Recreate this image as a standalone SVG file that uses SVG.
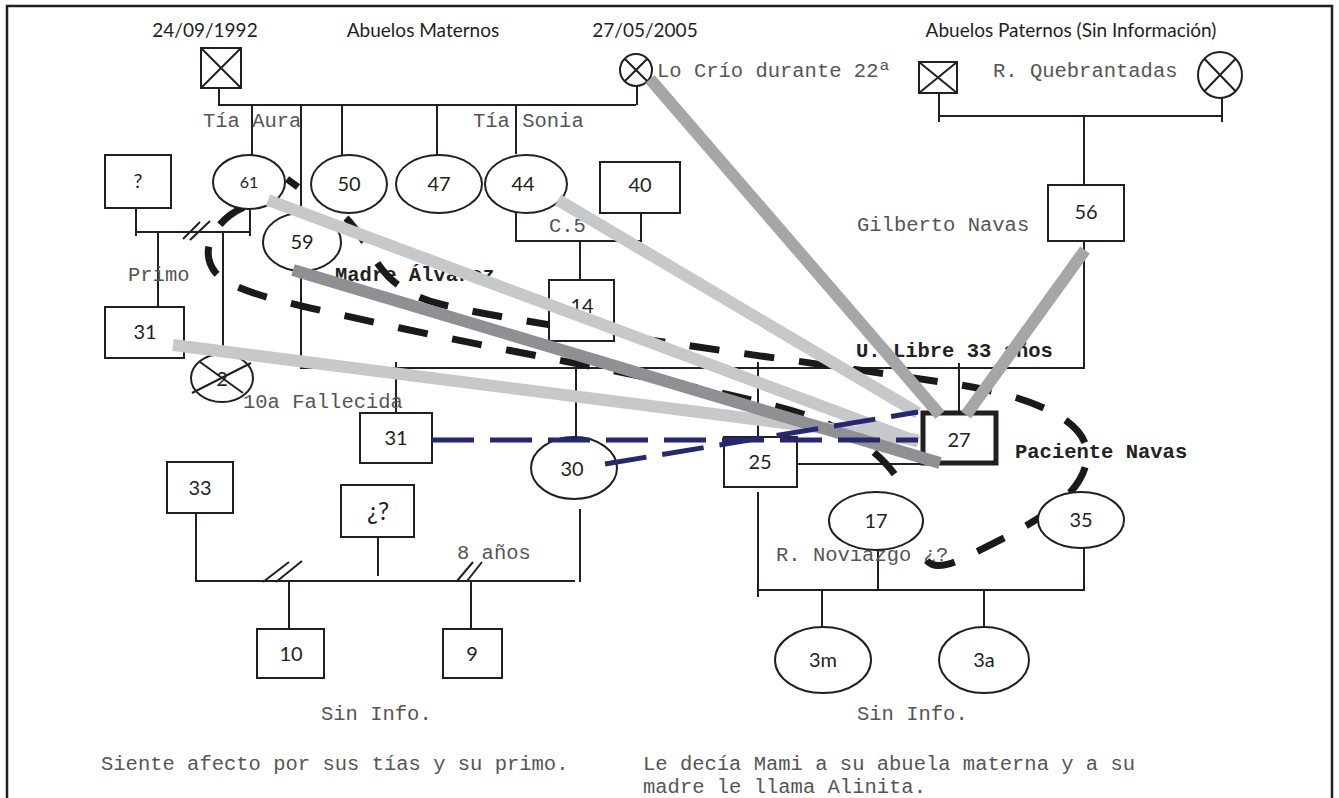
<svg xmlns="http://www.w3.org/2000/svg" width="1339" height="798" viewBox="0 0 1339 798">
  <defs>
    <style>
      .ln{stroke:#231f20;stroke-width:2;fill:none}
      .nd{stroke:#231f20;stroke-width:2;fill:#fff}
      .pt{stroke:#231f20;stroke-width:5;fill:#fff}
      .num{font-family:Lato,"Liberation Sans",sans-serif;font-size:20px;fill:#231f20;text-anchor:middle}
      .hdr{font-family:Lato,"Liberation Sans",sans-serif;font-size:19px;fill:#231f20;text-anchor:middle}
      .mono{font-family:"Liberation Mono","DejaVu Sans Mono",monospace;font-size:20.5px;fill:#555}
      .bold{font-family:"Liberation Mono","DejaVu Sans Mono",monospace;font-size:20.5px;font-weight:bold;fill:#222}
      .emo{stroke:#1a1a1a;stroke-width:7;fill:none;stroke-dasharray:30 25}
      .lg{stroke:#c7c8ca;stroke-width:12;fill:none}
      .mg{stroke:#a5a6a8;stroke-width:12;fill:none}
      .dg{stroke:#8f9093;stroke-width:12;fill:none}
      .bl{stroke:#262673;stroke-width:5;fill:none;stroke-dasharray:42 16}
    </style>
  </defs>
  <rect width="1339" height="798" fill="#fff"/>
  <!-- page frame -->
  <path d="M7 798V6H1332V798" stroke="#231f20" stroke-width="2.5" fill="none"/>

  <!-- kinship lines -->
  <g id="connectors">
    <path class="ln" d="M219 88V105H636M637 86V105"/>
    <path class="ln" d="M252 105V155M301 105V213M342 105V155M437 105V155M516 105V154"/>
    <path class="ln" d="M939 93V122M939 116H1222M1222 97V122M1084 116V185"/>
    <path class="ln" d="M136 208V236M136 232H250M250 210V236M158 232V307M223 232V354"/>
    <path class="ln" d="M301 271V368H1084V241"/>
    <path class="ln" d="M396 362V413M576 368V437M758 362V437M959 363V412"/>
    <path class="ln" d="M516 213V241H641V213M580 241V280"/>
    <path class="ln" d="M797 464H922"/>
    <path class="ln" d="M758 492V597M758 590H1084V548M878 550V590M822 590V627M984 590V627"/>
    <path class="ln" d="M196 513V581H575M580 509V582M378 537V576M289 581V629M471 581V629"/>
    <path class="ln" d="M263 582L289 562M276 582L302 561M457 581L473 562M467 581L482 562"/>
    <path class="ln" d="M183 239L200 222M190 240L210 221"/>
  </g>

  <!-- headings and notes -->
  <g id="labels">
    <text class="hdr" x="205" y="37">24/09/1992</text>
    <text class="hdr" x="423" y="37">Abuelos Maternos</text>
    <text class="hdr" x="645" y="37">27/05/2005</text>
    <text class="hdr" x="1071" y="37">Abuelos Paternos (Sin Información)</text>
    <text class="mono" x="657" y="77">Lo Crío durante 22ª</text>
    <text class="mono" x="993" y="77">R. Quebrantadas</text>
    <text class="mono" x="203" y="127">Tía Aura</text>
    <text class="mono" x="473" y="127">Tía Sonia</text>
    <text class="mono" x="549" y="232">C.5</text>
    <text class="mono" x="857" y="231">Gilberto Navas</text>
    <text class="mono" x="128" y="281">Primo</text>
    <text class="bold" x="335" y="281">Madre Álvarez</text>
    <text class="bold" x="856" y="357">U. Libre 33 años</text>
    <text class="mono" x="243" y="408">10a Fallecida</text>
    <text class="bold" x="1015" y="458">Paciente Navas</text>
    <text class="mono" x="776" y="561">R. Noviazgo ¿?</text>
    <text class="mono" x="457" y="559">8 años</text>
    <text class="mono" x="321" y="720">Sin Info.</text>
    <text class="mono" x="857" y="720">Sin Info.</text>
    <text class="mono" x="101" y="770">Siente afecto por sus tías y su primo.</text>
    <text class="mono" x="643" y="770">Le decía Mami a su abuela materna y a su</text>
    <text class="mono" x="643" y="793">madre le llama Alinita.</text>
  </g>

  <!-- emotional boundaries -->
  <g id="bonds">
    <path class="emo" d="M287 179L298 187"/>
    <path class="emo" d="M346 218C360 232 368 250 378 264C392 284 410 296 440 304C520 325 800 360 960 385C1030 396 1088 420 1087 455C1086 500 1020 530 970 555C945 568 930 570 924 556"/>
    <path class="emo" d="M244 207C215 220 198 250 215 272C235 295 300 305 400 328C550 360 700 385 790 410C850 428 885 455 903 487"/>
  </g>

  <!-- people -->
  <g id="gf-materno"><rect class="nd" x="201" y="48" width="40" height="40"/><path class="ln" d="M201 48L241 88M241 48L201 88"/></g>
  <g id="ga-materna"><circle class="nd" cx="636" cy="70" r="16"/><path class="ln" d="M624.7 58.7L647.3 81.3M647.3 58.7L624.7 81.3"/></g>
  <g id="gf-paterno"><rect class="nd" x="919" y="62" width="38" height="31"/><path class="ln" d="M919 62L957 93M957 62L919 93"/></g>
  <g id="ga-paterna"><ellipse class="nd" cx="1220" cy="75" rx="22" ry="23"/><path class="ln" d="M1204.4 58.7L1235.6 91.3M1235.6 58.7L1204.4 91.3"/></g>
  <g id="p-desconocido"><rect class="nd" x="105" y="155" width="66" height="53"/><text class="num" x="138" y="188">?</text></g>
  <g id="p61"><ellipse class="nd" cx="249" cy="182" rx="36" ry="27"/><text class="num" x="249" y="188" style="font-size:16px">61</text></g>
  <g id="p50"><ellipse class="nd" cx="349" cy="184" rx="38" ry="29"/><text class="num" x="349" y="191">50</text></g>
  <g id="p47"><ellipse class="nd" cx="439" cy="184" rx="43" ry="29"/><text class="num" x="439" y="191">47</text></g>
  <g id="p44"><ellipse class="nd" cx="526" cy="184" rx="41" ry="29"/><text class="num" x="523" y="191">44</text></g>
  <g id="p40"><rect class="nd" x="600" y="162" width="80" height="51"/><text class="num" x="640" y="192">40</text></g>
  <g id="p59"><ellipse class="nd" cx="302" cy="242" rx="39" ry="29"/><text class="num" x="302" y="249">59</text></g>
  <g id="p56"><rect class="nd" x="1048" y="185" width="76" height="56"/><text class="num" x="1086" y="219">56</text></g>
  <g id="p14"><rect class="nd" x="549" y="280" width="65" height="61"/><text class="num" x="582" y="313">14</text></g>
  <g id="p31a"><rect class="nd" x="105" y="307" width="79" height="51"/><text class="num" x="145" y="339">31</text></g>
  <g id="p2"><ellipse class="nd" cx="222" cy="378" rx="31" ry="24"/><path class="ln" d="M200 362L243 393M192 393L251 363"/><text class="num" x="222" y="386">2</text></g>
  <g id="p31b"><rect class="nd" x="360" y="413" width="72" height="50"/><text class="num" x="396" y="445">31</text></g>
  <g id="p30"><ellipse class="nd" cx="574" cy="468" rx="43" ry="31"/><text class="num" x="572" y="476">30</text></g>
  <g id="p25"><rect class="nd" x="724" y="437" width="73" height="50"/><text class="num" x="760" y="469">25</text></g>
  <g id="p27"><rect class="pt" x="923" y="413" width="73" height="50"/><text class="num" x="959" y="447">27</text></g>
  <g id="p17"><ellipse class="nd" cx="876" cy="521" rx="47" ry="29"/><text class="num" x="876" y="528">17</text></g>
  <g id="p35"><ellipse class="nd" cx="1081" cy="520" rx="43" ry="28"/><text class="num" x="1081" y="527">35</text></g>
  <g id="p33"><rect class="nd" x="167" y="462" width="66" height="51"/><text class="num" x="200" y="495">33</text></g>
  <g id="p-pareja"><rect class="nd" x="341" y="485" width="73" height="52"/><text class="num" x="378" y="520" style="font-size:25px">¿?</text></g>
  <g id="p10"><rect class="nd" x="257" y="629" width="67" height="49"/><text class="num" x="291" y="661">10</text></g>
  <g id="p9"><rect class="nd" x="443" y="629" width="59" height="49"/><text class="num" x="472" y="661">9</text></g>
  <g id="p3m"><ellipse class="nd" cx="823" cy="660" rx="48" ry="33"/><text class="num" x="823" y="667">3m</text></g>
  <g id="p3a"><ellipse class="nd" cx="984" cy="660" rx="45" ry="33"/><text class="num" x="984" y="667">3a</text></g>

  <!-- affective ties toward the patient -->
  <g id="ties">
    <path class="lg" d="M268 200L918 442"/>
    <path class="lg" d="M558 200L918 413"/>
    <path class="lg" d="M173 345L918 440"/>
    <path class="dg" d="M293 270L940 463"/>
    <path class="mg" d="M650 79L940 415"/>
    <path class="mg" d="M1085 250L966 415"/>
  </g>
  <g id="distance">
    <path class="bl" d="M432 440H918"/>
    <path class="bl" d="M605 464L918 412"/>
  </g>
</svg>
